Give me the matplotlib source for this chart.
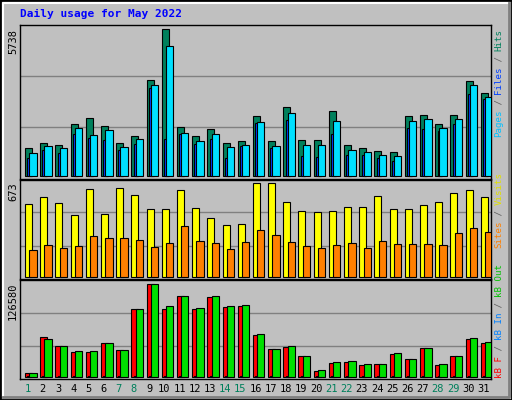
import matplotlib
matplotlib.use("Agg")
import matplotlib.pyplot as plt
from matplotlib.patches import Rectangle

days = list(range(1, 32))
hits = [1104,1300,1220,2040,2270,1960,1300,1570,3750,5738,1920,1570,1840,1300,1375,2350,1375,2700,1415,1415,2545,1220,1104,987,948,2350,2390,2040,2390,3710,3245]
files = [910,1180,1104,1880,1610,1800,1140,1455,3560,5075,1690,1375,1650,1140,1220,2115,1180,2465,1220,1220,2155,1025,948,830,790,2155,2230,1880,2230,3560,3090]
pages = [715,1025,910,1650,1490,1415,1025,1260,3440,1455,1650,1260,1455,715,1180,2075,1104,2195,790,750,1650,830,830,715,600,1880,1840,1765,2040,3200,3010]
visits = [520,571,527,440,629,447,637,586,484,484,622,491,425,374,381,673,673,535,469,462,469,498,498,578,484,484,513,535,600,622,571]
sites = [192,228,207,221,294,280,280,265,214,243,367,258,243,199,250,338,301,250,221,207,228,243,207,258,236,236,236,228,316,352,323]
kb_f = [5540,54500,42000,33700,33700,46200,36500,91900,126580,91900,110000,91900,108600,94700,96100,57300,37900,40700,28200,7400,18500,19900,15700,17100,31000,24000,39300,15700,28200,51700,46200]
kb_out = [5540,51700,42000,35100,35100,46200,36500,91900,126580,96100,110000,93300,110000,96100,97500,58700,37900,42000,28200,8800,19900,21300,17100,17100,32300,24000,39300,17100,28200,53100,47600]
kb_in = [900]*31
weekend = {1,7,8,14,15,21,22,28,29}

W, H = 512, 400
fig = plt.figure(figsize=(W/100, H/100), dpi=100, facecolor="#C0C0C0")
mono = "DejaVu Sans Mono"

# bevel border
fig.add_artist(Rectangle((0, 0), 1, 1, transform=fig.transFigure, fill=False, ec="black", lw=2))
fig.add_artist(plt.Line2D([3/W, 3/W, 509/W], [4/H, 397/H, 397/H], transform=fig.transFigure, color="white", lw=1.5))
fig.add_artist(plt.Line2D([3/W, 509/W, 509/W], [3/H, 3/H, 397/H], transform=fig.transFigure, color="#808080", lw=2))

def make_ax(top, bottom):
    ax = fig.add_axes([20/W, 1-bottom/H, 471/W, (bottom-top)/H], facecolor="#C0C0C0")
    ax.set_xlim(0.5, 31.5)
    ax.set_xticks([]); ax.set_yticks([])
    for s in ax.spines.values():
        s.set_color("black"); s.set_linewidth(1)
    return ax

def bars(ax, vals, off, w, color, z):
    ax.bar([d+off for d in days], vals, width=w, align="edge", color=color, ec="black", lw=0.8, zorder=z)

ax1 = make_ax(25, 179)
ymax = 5738
ax1.set_ylim(-ymax*0.017, ymax*1.03)
for g in [1923, 3908]:
    ax1.axhline(g, color="#808080", lw=1, zorder=0)
bars(ax1, hits, -0.17, 0.46, "#00805C", 2)
bars(ax1, pages, -0.02, 0.3, "#0040FF", 3)
bars(ax1, files, 0.11, 0.48, "#00E0FF", 4)

ax2 = make_ax(180, 279)
ymax = 673
ax2.set_ylim(-ymax*0.02, ymax*1.03)
for g in [221, 462]:
    ax2.axhline(g, color="#808080", lw=1, zorder=0)
bars(ax2, visits, -0.17, 0.46, "#FFFF00", 2)
bars(ax2, sites, 0.11, 0.48, "#FF8000", 3)

ax3 = make_ax(280, 379)
ymax = 126580
ax3.set_ylim(-ymax*0.025, ymax*1.04)
for g in [41100, 86400]:
    ax3.axhline(g, color="#808080", lw=1, zorder=0)
bars(ax3, kb_f, -0.17, 0.46, "#FF0000", 2)
bars(ax3, kb_in, -0.02, 0.2, "#0040FF", 3)
bars(ax3, kb_out, 0.11, 0.48, "#00E000", 4)

fig.text(20/W, 1-14/H, "Daily usage for May 2022", family=mono, weight="bold", color="#0000FF", fontsize=8, va="center", ha="left")

for lab, ytop in [("5738", 29), ("673", 182), ("126580", 283)]:
    fig.text(13/W, 1-ytop/H, lab, rotation=90, family=mono, fontsize=7.5, va="top", ha="center")

for d in days:
    fig.text((20 + 471*(d-0.5)/31 + 0)/W, 1-389/H, str(d), family=mono, fontsize=7.5,
             color="#00805C" if d in weekend else "black", ha="center", va="center")

def right_label(parts, ybottom):
    cw = 5.4
    y = ybottom
    for txt, col in parts:
        fig.text(499/W, 1-y/H, txt, rotation=90, family=mono, fontsize=6.6, color=col, ha="center", va="bottom")
        y -= cw*len(txt)

right_label([("Pages", "#00C0FF"), (" / ", "#606060"), ("Files", "#0040FF"), (" / ", "#606060"), ("Hits", "#00805C")], 137)
right_label([("Sites", "#FF8000"), (" / ", "#606060"), ("Visits", "#E0E000")], 248)
right_label([("kB F", "#FF0000"), (" / ", "#606060"), ("kB In", "#0080FF"), (" / ", "#606060"), ("kB Out", "#00C000")], 378)

fig.savefig("out.png", dpi=100, facecolor=fig.get_facecolor())
